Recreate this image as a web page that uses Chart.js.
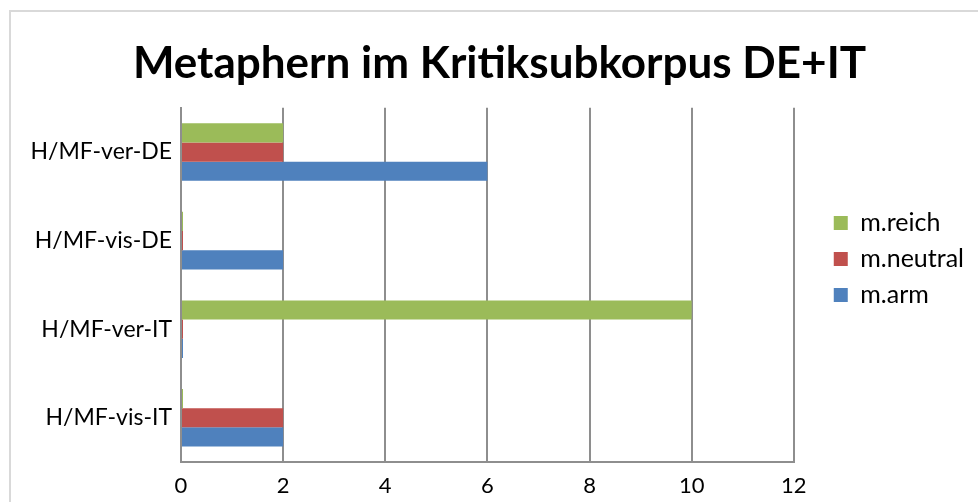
<!DOCTYPE html>
<html lang="de">
<head>
<meta charset="UTF-8">
<title>Metaphern im Kritiksubkorpus DE+IT</title>
<script src="https://cdn.jsdelivr.net/npm/chart.js"></script>
<style>
html,body{margin:0;padding:0;background:#fff;overflow:hidden;}
.wrap{position:absolute;left:0;top:0;width:978px;height:502px;}
.frame{position:absolute;left:9px;top:10px;width:1000px;height:520px;border:2px solid #d9d9d9;box-sizing:border-box;}
canvas{position:absolute;left:0;top:0;}
</style>
</head>
<body>
<div class="wrap">
<div class="frame"></div>
<canvas id="chart" width="978" height="502"></canvas>
</div>
<script>
// data
const categories = ['H/MF-ver-DE', 'H/MF-vis-DE', 'H/MF-ver-IT', 'H/MF-vis-IT'];
const reich   = [2, 0, 10, 0];
const neutral = [2, 0, 0, 2];
const arm     = [6, 2, 0, 2];
const xTicks  = [0, 2, 4, 6, 8, 10, 12];

const FONT = 'Lato, Carlito, "DejaVu Sans", sans-serif';
const GRID = '#8e8e8e';

// nudge legend + title so they sit where the original ones do
const blockShift = {
  id: 'blockShift',
  afterLayout(chart) {
    const l = chart.legend;
    l.left += 29; l.right += 29;
    l.top += 8; l.bottom += 8;
    const t = chart.titleBlock;
    t.left += 27; t.right += 27;
  }
};

new Chart(document.getElementById('chart'), {
  type: 'bar',
  data: {
    labels: categories,
    datasets: [
      {label: 'm.reich', data: reich, backgroundColor: '#9bbb59'},
      {label: 'm.neutral', data: neutral, backgroundColor: '#c0504d'},
      {label: 'm.arm', data: arm, backgroundColor: '#4f81bd'}
    ]
  },
  options: {
    indexAxis: 'y',
    responsive: false,
    animation: false,
    categoryPercentage: 0.65,
    barPercentage: 1,
    minBarLength: 2,
    layout: {padding: {left: 0, right: 33, top: 0, bottom: 0}},
    plugins: {
      title: {
        display: true,
        text: 'Metaphern im Kritiksubkorpus DE+IT',
        color: '#000',
        font: {family: FONT, size: 44, weight: 'bold'},
        padding: {top: 37, bottom: 18}
      },
      legend: {
        position: 'right',
        labels: {
          color: '#000',
          font: {family: FONT, size: 25},
          boxWidth: 14,
          boxHeight: 14,
          padding: 11
        }
      },
      tooltip: {enabled: false}
    },
    scales: {
      x: {
        min: 0,
        max: 12,
        afterBuildTicks: s => { s.ticks = xTicks.map(v => ({value: v})); },
        afterFit: s => { s.height = 40; },
        grid: {color: GRID, lineWidth: 2, drawTicks: false},
        border: {color: GRID, width: 2},
        ticks: {color: '#000', font: {family: FONT, size: 22}, padding: 11}
      },
      y: {
        afterFit: s => { s.width = 181; },
        grid: {display: false, drawTicks: false},
        border: {display: true, color: GRID, width: 2},
        ticks: {color: '#000', font: {family: FONT, size: 23}, padding: 9}
      }
    }
  },
  plugins: [blockShift]
});
</script>
</body>
</html>
